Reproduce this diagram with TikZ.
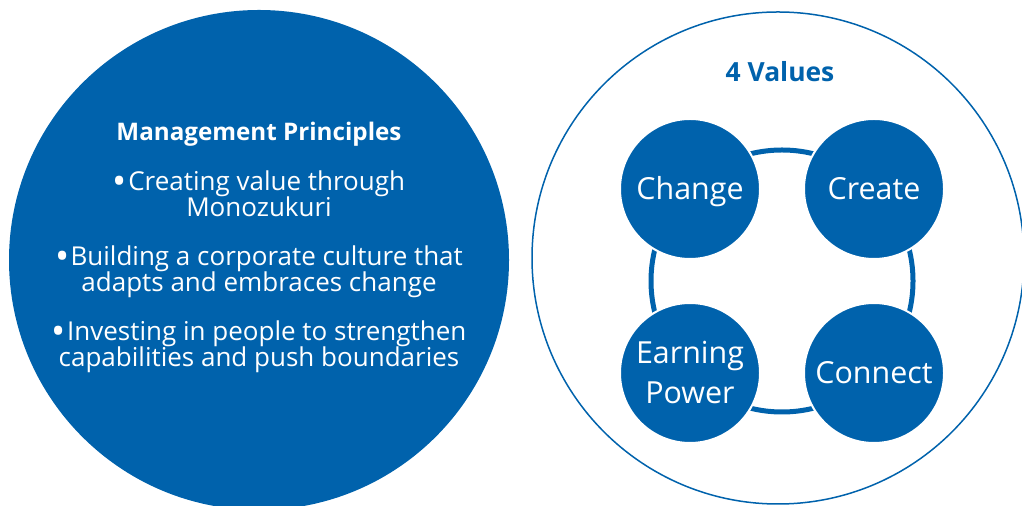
\documentclass[tikz,border=0pt]{standalone}
\usepackage{fontspec}
\setmainfont{Open Sans}
\usetikzlibrary{positioning}
\definecolor{valblue}{RGB}{0,98,172}
\newcommand{\pbullet}{\raisebox{-1.6pt}{\scalebox{1.45}{•}}\hspace{0.6pt}}

\begin{document}
\begin{tikzpicture}
[x=0.5pt,y=-0.5pt,
value/.style={circle,fill=valblue,draw=white,line width=1pt,minimum size=70pt,inner sep=0pt,text=white,align=center,text height=10.6pt,text depth=0pt,font=\fontsize{15.2}{20}\selectfont},
heading/.style={anchor=base,font=\bfseries\fontsize{12.1}{13}\selectfont},
point/.style={anchor=base,text=white,align=center,font=\fontsize{13}{13}\selectfont}]
\useasboundingbox (0,0) rectangle (1022,506);
\clip (0,0) rectangle (1022,506);

% management principles
\fill [valblue] (259,260) circle (250);
\node[heading,text=white] (mgmt) at (259,141) {Management Principles};
\node[point] (p1) at (259,217) {\pbullet Creating value through\\Monozukuri};
\node[point] (p2) at (259,292) {\pbullet Building a corporate culture that\\adapts and embraces change};
\node[point] (p3) at (259,367) {\pbullet Investing in people to strengthen\\capabilities and push boundaries};

% 4 values
\draw [valblue,line width=0.75pt] (778,258) circle (246);
\node[heading,text=valblue,font=\bfseries\fontsize{13.2}{13}\selectfont] (vals) at (780,82) {4 Values};
\draw [valblue,line width=2.5pt] (782,281) circle (131);
\node[value] (change) at (690,189) {Change};
\node[value] (create) at (874,189) {Create};
\node[value,text height=30.6pt] (earn) at (690,373) {Earning\\Power};
\node[value] (connect) at (874,373) {Connect};
\end{tikzpicture}
\end{document}
